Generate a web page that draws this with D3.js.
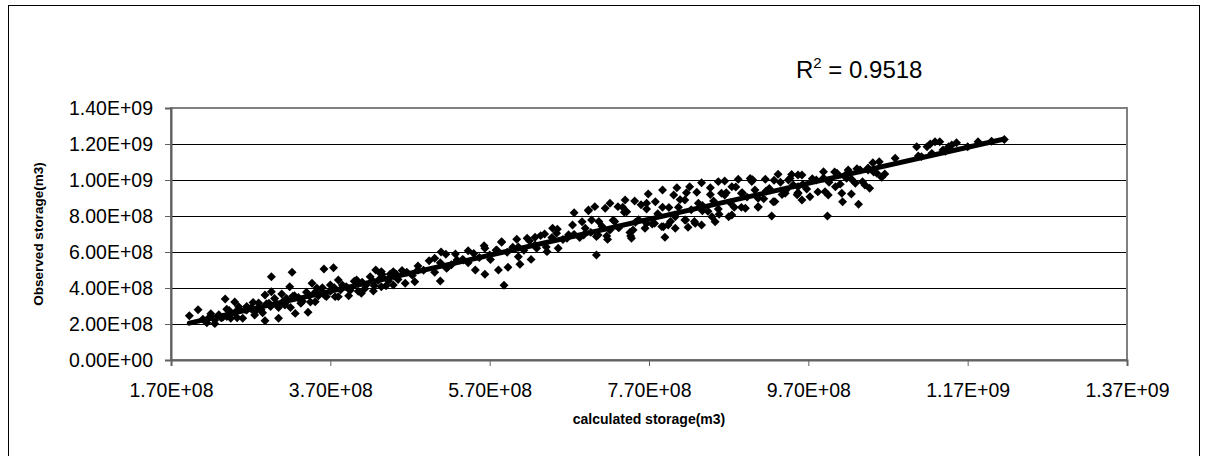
<!DOCTYPE html>
<html lang="en">
<head>
<meta charset="utf-8">
<title>Observed vs calculated storage</title>
<script src="https://cdn.jsdelivr.net/npm/d3@7"></script>
<style>
  body { margin: 0; background: #fff; }
  text { font-family: "Liberation Sans", Arial, sans-serif; }
</style>
</head>
<body>
<script>
// all storage values below are in units of 1e8 m3
const UNIT = 1e8;

// points, [calculated, observed]
const lowRange = [
  [1.93,2.46],[2.04,2.79],[2.38,3.39],[2.50,3.22],[2.55,2.96],[2.40,2.41],[2.65,2.78],[2.75,2.50],
  [2.88,2.18],[2.96,4.63],[2.88,3.61],[2.96,3.79],[3.09,3.67],[3.05,2.32],[3.19,4.07],[3.22,4.87],
  [3.13,3.06],[3.26,2.59],[3.34,3.24],[3.42,2.65],[3.47,4.26],[3.51,3.24],[3.62,5.06],[3.74,5.13],
  [3.59,3.79],[3.70,4.17],[3.80,4.44],[3.76,3.52],[3.93,3.57],[4.03,4.44],[4.09,3.71],[4.24,3.83],
  [4.27,5.00],[4.35,4.76],[2.80,2.91],[2.25,2.22],[2.17,2.32]
];
const lowBand = [
  [2.10,2.27],[2.15,2.07],[2.20,2.57],[2.25,2.02],[2.30,2.52],[2.35,2.37],[2.40,2.82],[2.45,2.32],
  [2.50,2.62],[2.55,2.82],[2.60,2.32],[2.65,2.97],[2.70,2.87],[2.75,2.67],[2.80,3.17],[2.85,2.62],
  [2.90,3.12],[2.95,2.97],[3.00,3.42],[3.05,2.92],[3.10,3.22],[3.15,3.42],[3.20,2.92],[3.25,3.57],
  [3.30,3.47],[3.35,3.27],[3.40,3.77],[3.45,3.22],[3.50,3.72],[3.55,3.57],[3.60,4.02],[3.65,3.52],
  [3.70,3.82],[3.75,4.02],[3.80,3.52],[3.85,4.17],[3.90,4.07],[3.95,3.87],[4.00,4.37],[4.05,3.82],
  [4.10,4.32],[4.15,4.17],[4.20,4.62],[4.25,4.12],[4.30,4.42],[4.35,4.62],[4.40,4.12],[4.45,4.77],
  [4.50,4.67],[4.55,4.47],[4.60,4.97],
  [2.33,2.35],[2.43,2.75],[2.53,2.35],[2.63,2.80],[2.73,3.20],[2.83,2.80],[2.93,3.15],[3.03,3.10],
  [3.13,3.15],[3.23,3.55],[3.33,3.15],[3.43,3.60],[3.53,4.00],[3.63,3.60],[3.73,3.95],[3.83,3.90],
  [3.93,3.95],[4.03,4.35],[4.13,3.95],[4.23,4.40],[4.33,4.80],[4.43,4.40],[4.53,4.75]
];
const midRange = [
  [4.34,4.91],[4.49,4.91],[4.34,4.07],[4.49,4.17],[4.64,4.26],[4.76,4.35],[4.80,5.00],[5.01,5.65],
  [5.09,6.00],[5.08,4.39],[5.16,5.09],[5.27,5.89],[5.37,5.56],[5.43,6.07],[5.52,5.00],[5.63,6.35],
  [5.64,4.76],[5.70,5.83],[5.79,6.11],[5.85,6.54],[5.81,5.00],[5.88,4.15],[5.93,5.15],[6.04,6.71],
  [6.06,5.74],[6.08,5.32],[6.17,6.76],[6.22,5.59],[6.27,6.82],[6.29,6.21],[6.39,7.00],[6.42,6.02],
  [6.49,7.32],[6.54,7.04],[6.56,6.21],[6.67,6.76],[6.74,7.50],[6.76,8.18],[6.86,7.68],[6.88,6.94],
  [6.94,8.29]
];
const midBand = [
  [4.66,4.88],[4.73,4.70],[4.80,5.22],[4.87,4.99],[4.94,5.51],[5.01,4.88],[5.08,5.40],[5.15,5.87],
  [5.22,5.29],[5.29,5.56],[5.36,5.58],[5.43,5.40],[5.50,5.92],[5.57,5.69],[5.64,6.21],[5.71,5.58],
  [5.78,6.10],[5.85,6.57],[5.92,5.99],[5.99,6.26],[6.06,6.28],[6.13,6.10],[6.20,6.62],[6.27,6.39],
  [6.34,6.91],[6.41,6.28],[6.48,6.80],[6.55,7.27],[6.62,6.69],[6.69,6.96],[6.76,6.98],[6.83,6.80],
  [6.90,7.32],[6.97,7.09]
];
const upperRange = [
  [7.04,5.83],[6.94,8.33],[6.98,7.78],[7.06,6.94],[7.02,8.52],[7.15,8.43],[7.21,8.71],[7.21,7.22],
  [7.31,8.52],[7.40,8.89],[7.42,8.24],[7.48,6.76],[7.52,8.83],[7.50,7.22],[7.65,7.32],[7.69,9.22],
  [7.67,8.71],[7.78,8.79],[7.87,9.44],[7.90,6.82],[7.94,7.50],[8.01,9.17],[8.05,9.57],[8.03,7.96],
  [8.15,8.89],[8.21,9.63],[8.15,7.78],[8.28,7.59],[8.36,9.85],[8.32,8.71],[8.47,9.57],[8.49,7.96],
  [8.57,9.91],[8.65,9.94],[8.61,9.26],[8.74,9.63],[8.74,8.06],[8.82,10.04],[8.86,9.26],[8.91,8.43],
  [8.99,9.91],[9.03,9.44],[9.07,8.52],[9.16,10.04],[9.24,8.00],[9.22,9.44],[9.26,8.79],[9.32,10.32],
  [9.41,9.26],[9.45,10.00],[9.51,9.72],[9.57,10.28],[9.57,9.26],
  [7.86,7.41],[8.03,7.32],[8.19,7.37],[8.36,7.50],[8.53,7.68],[8.70,7.96]
];
const upperBand = [
  [7.04,6.86],[7.11,7.43],[7.18,6.70],[7.25,7.77],[7.32,7.34],[7.39,8.21],[7.46,7.08],[7.53,7.65],
  [7.60,8.62],[7.67,7.59],[7.74,7.56],[7.81,8.13],[7.88,7.40],[7.95,8.47],[8.02,8.04],[8.09,8.91],
  [8.16,7.78],[8.23,8.35],[8.30,9.32],[8.37,8.29],[8.44,8.26],[8.51,8.83],[8.58,8.10],[8.65,9.17],
  [8.72,8.74],[8.79,9.61],[8.86,8.48],[8.93,9.05],[9.00,10.02],[9.07,8.99],[9.14,8.96],[9.21,9.53],
  [9.28,8.80],[9.35,9.87],[9.42,9.44],[9.49,10.31],[9.56,9.18],[9.63,9.75],
  [7.07,7.69],[7.17,6.89],[7.27,7.69],[7.37,8.49],[7.47,6.89],[7.57,7.79],[7.67,8.39],[7.77,7.59],
  [7.87,8.49],[7.97,7.69],[8.07,8.49],[8.17,9.29],[8.27,7.69],[8.37,8.59],[8.47,9.19],[8.57,8.39],
  [8.67,9.29],[8.77,8.49],[8.87,9.29],[8.97,10.09],[9.07,8.49],[9.17,9.39],[9.27,9.99],[9.37,9.19],
  [9.47,10.09],[9.57,9.29]
];
const highRange = [
  [9.57,9.63],[9.62,10.28],[9.62,8.89],[9.72,9.07],[9.80,10.00],[9.89,10.46],[9.91,9.35],[9.94,8.00],
  [9.95,9.17],[10.04,9.63],[10.06,10.37],[10.12,9.26],[10.13,8.79],[10.18,10.09],[10.20,10.56],[10.24,9.22],
  [10.29,9.82],[10.33,8.65],[10.35,10.56],[10.41,9.72],[10.47,9.54],[10.45,10.56],[10.51,10.96],[10.56,10.37],
  [10.62,10.15],[10.79,11.21],[11.06,11.85],[11.08,11.33],[11.19,11.85],[11.23,12.00],[11.29,12.13],[11.35,12.13],
  [11.25,11.48],[11.39,11.67],[11.46,11.85],[11.50,11.94],[11.56,12.07],[11.83,12.13],[12.16,12.25],
  [11.12,11.30],[11.42,11.60],[11.70,11.85],[12.00,12.15]
];
const highBand = [
  [9.68,9.50],[9.75,10.07],[9.82,9.34],[9.89,10.11],[9.96,9.88],[10.03,10.45],[10.10,9.77],[10.17,10.29],
  [10.24,10.06],[10.31,10.63],[10.38,9.90],[10.45,10.67],[10.52,10.44],[10.59,11.01],[10.66,10.33]
];

const xTicks = [1.7, 3.7, 5.7, 7.7, 9.7, 11.7, 13.7];
const yTicks = [0, 2, 4, 6, 8, 10, 12, 14];
// linear trendline shown in the chart, y = a*x + b
const trendSlope = 1.0;
const trendIntercept = 0.12;
const rSquared = "0.9518";

const points = [].concat(lowRange, lowBand, midRange, midBand, upperRange, upperBand, highRange, highBand)
  .map(p => ({ x: p[0] * UNIT, y: p[1] * UNIT }));

const W = 1207, H = 456;
const plotL = 171, plotR = 1127, plotT = 108, plotB = 360;

function excelSci(v) {
  const parts = v.toExponential(2).split("e");
  const e = parseInt(parts[1], 10);
  return parts[0] + "E" + (e < 0 ? "-" : "+") + String(Math.abs(e)).padStart(2, "0");
}

const svg = d3.select("body").append("svg")
  .attr("width", W)
  .attr("height", H);

svg.append("rect")
  .attr("x", 8.5).attr("y", 5.5)
  .attr("width", 1191).attr("height", 470)
  .attr("fill", "#fff")
  .attr("stroke", "#000");

const x = d3.scaleLinear().domain([xTicks[0] * UNIT, xTicks[xTicks.length - 1] * UNIT]).range([plotL, plotR]);
const y = d3.scaleLinear().domain([0, yTicks[yTicks.length - 1] * UNIT]).range([plotB, plotT]);

// gridlines
svg.append("g")
  .selectAll("line")
  .data(yTicks.slice(1, -1))
  .join("line")
  .attr("x1", plotL).attr("x2", plotR)
  .attr("y1", d => Math.round(y(d * UNIT)) + 0.5)
  .attr("y2", d => Math.round(y(d * UNIT)) + 0.5)
  .attr("stroke", "#000")
  .attr("stroke-width", 1);

// plot area frame
svg.append("rect")
  .attr("x", plotL).attr("y", plotT)
  .attr("width", plotR - plotL).attr("height", plotB - plotT)
  .attr("fill", "none")
  .attr("stroke", "#808080")
  .attr("stroke-width", 2);

const yAxis = svg.append("g")
  .attr("transform", `translate(${plotL},0)`)
  .call(d3.axisLeft(y).tickValues(yTicks.map(d => d * UNIT)).tickSize(6).tickPadding(12).tickFormat(excelSci));

const xAxis = svg.append("g")
  .attr("transform", `translate(0,${plotB})`)
  .call(d3.axisBottom(x).tickValues(xTicks.map(d => d * UNIT)).tickSize(6).tickPadding(17).tickFormat(excelSci));

[yAxis, xAxis].forEach(g => {
  g.selectAll(".domain").attr("stroke", "#606060").attr("stroke-width", 2);
  g.selectAll(".tick line").attr("stroke", "#606060");
  g.selectAll("text")
    .attr("font-family", "'Liberation Sans', Arial, sans-serif")
    .attr("font-size", 19.5)
    .attr("fill", "#000");
});

// markers
const diamond = d3.symbol(d3.symbolSquare, 40);
svg.append("g")
  .selectAll("path")
  .data(points)
  .join("path")
  .attr("d", diamond)
  .attr("transform", d => `translate(${x(d.x)},${y(d.y)}) rotate(45)`)
  .attr("fill", "#000");

// trendline across the data range
const xExt = d3.extent(points, d => d.x);
svg.append("path")
  .datum(xExt.map(v => ({ x: v, y: trendSlope * v + trendIntercept * UNIT })))
  .attr("d", d3.line().x(d => x(d.x)).y(d => y(d.y)))
  .attr("fill", "none")
  .attr("stroke", "#000")
  .attr("stroke-width", 5)
  .attr("stroke-linecap", "round");

// axis titles
svg.append("text")
  .attr("x", (plotL + plotR) / 2)
  .attr("y", 424)
  .attr("text-anchor", "middle")
  .attr("font-size", 14)
  .attr("font-weight", "bold")
  .text("calculated storage(m3)");

svg.append("text")
  .attr("transform", `translate(43,${(plotT + plotB) / 2}) rotate(-90)`)
  .attr("text-anchor", "middle")
  .attr("font-size", 13.5)
  .attr("font-weight", "bold")
  .text("Observed storage(m3)");

// R squared label
const r2 = svg.append("text")
  .attr("x", 796)
  .attr("y", 78)
  .attr("font-size", 24);
r2.append("tspan").text("R");
r2.append("tspan").attr("font-size", 15).attr("dy", -10).text("2");
r2.append("tspan").attr("dy", 10).text(" = " + rSquared);
</script>
</body>
</html>
